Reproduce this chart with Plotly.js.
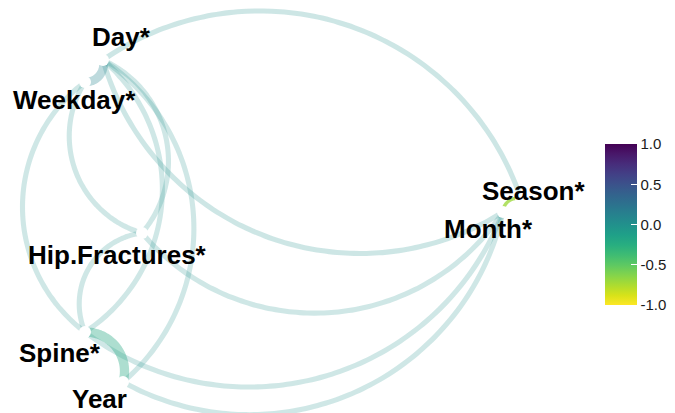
<!DOCTYPE html>
<html><head><meta charset="utf-8">
<script src="https://cdn.plot.ly/plotly-3.0.1.min.js"></script>
<style>html,body{margin:0;padding:0;background:#fff}#chart{width:675px;height:413px}</style>
</head><body><div id="chart"></div>
<script>
// ---- data ----
const nodes = ["Day*", "Weekday*", "Hip.Fractures*", "Spine*", "Year", "Month*", "Season*"];
const nodeX = [-0.985, -1.075, -0.79, -1.075, -0.885, 1.015, 1.105];
const nodeY = [0.80, 0.69, -0.065, -0.56, -0.81, 0.04, 0.105];

const edgeFrom = ["Day*", "Month*", "Month*", "Month*", "Month*", "Spine*", "Hip.Fractures*", "Day*", "Day*", "Day*", "Spine*", "Spine*", "Day*", "Month*"];
const edgeTo   = ["Season*", "Day*", "Hip.Fractures*", "Spine*", "Year", "Weekday*", "Weekday*", "Spine*", "Year", "Hip.Fractures*", "Hip.Fractures*", "Year", "Weekday*", "Season*"];
const edgeR      = [0.01, 0.01, 0.0, 0.0, 0.0, 0.0, 0.0, 0.0, 0.0, 0.0, 0.0, -0.2, 0.1, -0.7];
const edgeWeight = [0.15, 0.15, 0.15, 0.15, 0.15, 0.15, 0.15, 0.15, 0.15, 0.15, 0.15, 0.45, 0.4, 0.03];

const colorTicks = [-1, -0.5, 0, 0.5, 1];
const colorTickText = ["-1.0", "-0.5", "0.0", "0.5", "1.0"];

// ---- styling / helpers ----
const viridis = ["#440154", "#482878", "#3e4989", "#31688e", "#26828e", "#1f9e89", "#35b779", "#6ece58", "#b5de2b", "#fde725"];
function hex2rgb(h) { return [1, 3, 5].map(i => parseInt(h.substr(i, 2), 16)); }
function colorFor(r) {
  const t = (1 - r) / 2; // 1 -> purple, -1 -> yellow
  const p = Math.max(0, Math.min(1, t)) * (viridis.length - 1);
  const i = Math.min(Math.floor(p), viridis.length - 2);
  const f = p - i;
  const a = hex2rgb(viridis[i]), b = hex2rgb(viridis[i + 1]);
  const c = a.map((v, k) => Math.round(v + (b[k] - v) * f));
  return "rgb(" + c.join(",") + ")";
}
function arc(x0, y0, x1, y1, curv, n) {
  const dx = x1 - x0, dy = y1 - y0, L = Math.hypot(dx, dy);
  const nx = -dy / L, ny = dx / L;
  const mx = (x0 + x1) / 2, my = (y0 + y1) / 2;
  const s = curv * L / 2, R = (s * s + L * L / 4) / (2 * s);
  const cx = mx + nx * (s - R), cy = my + ny * (s - R);
  const a0 = Math.atan2(y0 - cy, x0 - cx), a1 = Math.atan2(y1 - cy, x1 - cx);
  let d = a1 - a0;
  while (d > Math.PI) d -= 2 * Math.PI;
  while (d < -Math.PI) d += 2 * Math.PI;
  const xs = [], ys = [];
  for (let k = 0; k <= n; k++) {
    const a = a0 + d * k / n;
    xs.push(cx + R * Math.cos(a)); ys.push(cy + R * Math.sin(a));
  }
  return [xs, ys];
}

const traces = [];
const order = edgeR.map((r, i) => i).sort((a, b) => Math.abs(edgeR[a]) - Math.abs(edgeR[b]));
order.forEach(i => {
  const a = nodes.indexOf(edgeFrom[i]), b = nodes.indexOf(edgeTo[i]);
  const [xs, ys] = arc(nodeX[a], nodeY[a], nodeX[b], nodeY[b], 0.5, 60);
  traces.push({
    type: "scatter", mode: "lines", x: xs, y: ys,
    line: { color: colorFor(edgeR[i]), width: 3 + 14 * edgeWeight[i], shape: "spline" },
    opacity: 0.22 + 0.8 * Math.abs(edgeR[i]),
    hoverinfo: "skip", showlegend: false
  });
});
traces.push({
  type: "scatter", mode: "markers", x: nodeX, y: nodeY,
  marker: { color: "#ffffff", size: 12 }, hoverinfo: "skip", showlegend: false
});

traces.push({
  type: "scatter", mode: "markers", x: [nodeX[0]], y: [nodeY[0]],
  marker: {
    size: 1, opacity: 0, color: [edgeR[0]], cmin: -1, cmax: 1,
    colorscale: "Viridis", reversescale: true, showscale: true,
    colorbar: {
      x: 605 / 675, xanchor: "left", y: 1 - 224.5 / 413, yanchor: "middle",
      len: 161, lenmode: "pixels", thickness: 32, thicknessmode: "pixels",
      xpad: 0, ypad: 0, outlinewidth: 0,
      tickmode: "array", tickvals: colorTicks, ticktext: colorTickText,
      ticks: "inside", ticklen: 6, tickwidth: 1, tickcolor: "#ffffff",
      tickfont: { family: "Liberation Sans, Arial, sans-serif", size: 15, color: "#1a1a1a" }
    }
  },
  hoverinfo: "skip", showlegend: false
});

const labelShift = { // pixel nudges of labels from their node (ggrepel-like)
  "Day*": [18, 23], "Weekday*": [-11, -18], "Hip.Fractures*": [-25, -22],
  "Spine*": [-25, -21], "Year": [-24, -17], "Month*": [-15, -17], "Season*": [12, 8]
};
const annotations = nodes.map((nm, i) => ({
  x: nodeX[i], y: nodeY[i], xref: "x", yref: "y", text: "<b>" + nm + "</b>",
  showarrow: false, xanchor: "center", yanchor: "middle",
  xshift: labelShift[nm][0], yshift: labelShift[nm][1],
  font: { family: "Liberation Sans, Arial, sans-serif", size: 26, color: "#000000" }
}));

const layout = {
  width: 675, height: 413,
  margin: { l: 0, r: 0, t: 0, b: 0, autoexpand: false },
  paper_bgcolor: "#ffffff", plot_bgcolor: "#ffffff",
  xaxis: { range: [-1.5, 1.875], visible: false, fixedrange: true },
  yaxis: { range: [-0.965, 1.1], visible: false, fixedrange: true },
  annotations: annotations,
  showlegend: false
};
Plotly.newPlot("chart", traces, layout, { displayModeBar: false, staticPlot: true });
</script>
</body></html>
